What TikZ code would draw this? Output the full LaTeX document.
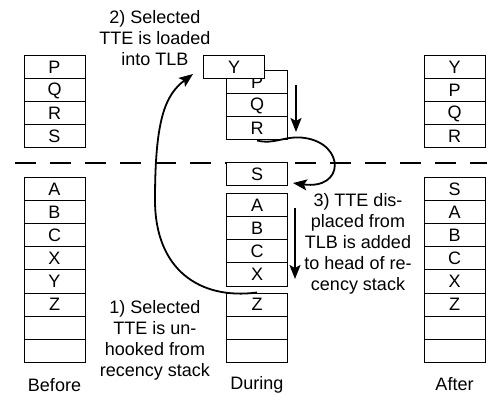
\documentclass[tikz,border=0pt]{standalone}
\usepackage{fontspec}
\setmainfont{Liberation Sans}
\usetikzlibrary{arrows.meta}
\begin{document}
\begin{tikzpicture}[x=1pt,y=-1pt,
  cell/.style={draw, line width=1pt, fill=white, minimum width=61pt, minimum height=23pt, inner sep=0pt, font=\fontsize{18}{18}\selectfont},
  lbl/.style={align=center, font=\fontsize{18}{21}\selectfont, inner sep=0pt},
  arr/.style={line width=1.8pt, -{Stealth[length=14pt,width=11pt,inset=3pt]}}]
\useasboundingbox (0,0) rectangle (487,395);
% dashed separator
\draw[line width=2pt, dash pattern=on 21pt off 14pt] (15,163) -- (487,163);
% Before
\node[cell] (bP) at (54.5,67.5) {P};
\node[cell] (bQ) at (54.5,90.5) {Q};
\node[cell] (bR) at (54.5,113.5) {R};
\node[cell] (bS) at (54.5,136.5) {S};
\node[cell] (bA) at (54.5,189.5) {A};
\node[cell] (bB) at (54.5,212.5) {B};
\node[cell] (bC) at (54.5,235.5) {C};
\node[cell] (bX) at (54.5,258.5) {X};
\node[cell] (bY) at (54.5,281.5) {Y};
\node[cell] (bZ) at (54.5,304.5) {Z};
\node[cell] (bE1) at (54.5,327.5) {};
\node[cell] (bE2) at (54.5,350.5) {};
% During
\node[cell] (dP) at (257,82.5) {P};
\node[cell] (dQ) at (257,105.5) {Q};
\node[cell] (dR) at (257,128.5) {R};
\node[cell] (dY) at (234,67.5) {Y};
\node[cell] (dS) at (257,174.5) {S};
\node[cell] (dA) at (257,205.5) {A};
\node[cell] (dB) at (257,228.5) {B};
\node[cell] (dC) at (257,251.5) {C};
\node[cell] (dX) at (257,274.5) {X};
\node[cell] (dZ) at (257,304.5) {Z};
\node[cell] (dE1) at (257,327.5) {};
\node[cell] (dE2) at (257,350.5) {};
% After
\node[cell] (aY) at (454.5,67.5) {Y};
\node[cell] (aP) at (454.5,90.5) {P};
\node[cell] (aQ) at (454.5,113.5) {Q};
\node[cell] (aR) at (454.5,136.5) {R};
\node[cell] (aS) at (454.5,189.5) {S};
\node[cell] (aA) at (454.5,212.5) {A};
\node[cell] (aB) at (454.5,235.5) {B};
\node[cell] (aC) at (454.5,258.5) {C};
\node[cell] (aX) at (454.5,281.5) {X};
\node[cell] (aZ) at (454.5,304.5) {Z};
\node[cell] (aE1) at (454.5,327.5) {};
\node[cell] (aE2) at (454.5,350.5) {};
% captions
\node[lbl] (capB) at (54.5,385) {Before};
\node[lbl] (capD) at (257,385) {During};
\node[lbl] (capA) at (454.5,384) {After};
\node[lbl] (l2) at (155,38) {2) Selected\\TTE is loaded\\into TLB};
\node[lbl] (l1) at (155,340) {1) Selected\\TTE is un-\\hooked from\\recency stack};
\node[lbl] (l3) at (358,244) {3) TTE dis-\\placed from\\TLB is added\\to head of re-\\cency stack};
% arrows
\coordinate (t1) at (193,74);
\draw[arr] (dZ.north) .. controls (200,300) and (155,270) .. (155,200)
  .. controls (155,120) and (165,95) .. (t1);
\coordinate (s2) at (296,85);
\coordinate (e2) at (296,132);
\draw[arr] (s2) -- (e2);
\coordinate (m3) at (305,138);
\coordinate (t3) at (293,183);
\draw[arr] (dR.south) .. controls (275,145) and (285,135) .. (m3)
  .. controls (345,144) and (345,190) .. (t3);
\coordinate (s4) at (295,208);
\coordinate (e4) at (295,279);
\draw[arr] (s4) -- (e4);
\end{tikzpicture}
\end{document}
